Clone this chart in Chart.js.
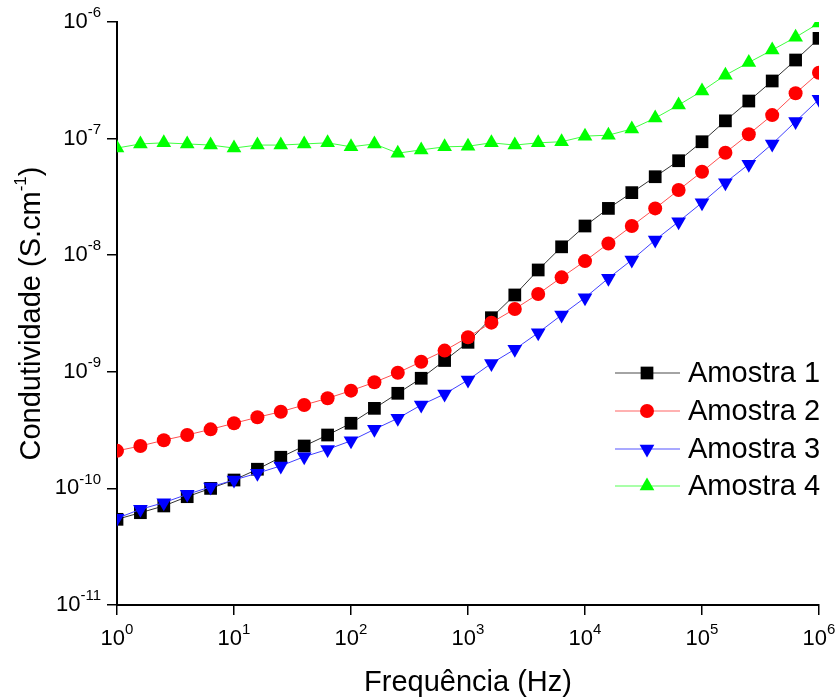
<!DOCTYPE html>
<html>
<head>
<meta charset="utf-8">
<script src="https://cdn.jsdelivr.net/npm/chart.js@4/dist/chart.umd.min.js"></script>
<style>
  html, body { margin: 0; padding: 0; background: #fff; }
  #wrap { width: 837px; height: 698px; }
</style>
</head>
<body>
<div id="wrap"><canvas id="chart" width="837" height="698"></canvas></div>
<script>
// frequencies (Hz), five points per decade
const freqs = [1, 1.585, 2.512, 3.981, 6.31, 10, 15.85, 25.12, 39.81, 63.1,
  100, 158.5, 251.2, 398.1, 631, 1000, 1585, 2512, 3981, 6310,
  10000, 15850, 25120, 39810, 63100, 100000, 158500, 251200, 398100, 631000, 1000000];

// conductivity (S/cm)
const amostra1 = [5.43e-11, 6.19e-11, 7.07e-11, 8.49e-11, 1.00e-10, 1.18e-10, 1.46e-10, 1.85e-10, 2.31e-10, 2.87e-10,
  3.62e-10, 4.86e-10, 6.54e-10, 8.8e-10, 1.25e-9, 1.79e-9, 2.91e-9, 4.56e-9, 7.47e-9, 1.18e-8,
  1.78e-8, 2.52e-8, 3.44e-8, 4.71e-8, 6.46e-8, 9.4e-8, 1.42e-7, 2.1e-7, 3.12e-7, 4.72e-7, 7.24e-7];
const amostra2 = [2.10e-10, 2.31e-10, 2.59e-10, 2.87e-10, 3.21e-10, 3.62e-10, 4.07e-10, 4.55e-10, 5.19e-10, 5.93e-10,
  6.89e-10, 8.13e-10, 9.82e-10, 1.22e-9, 1.52e-9, 1.98e-9, 2.64e-9, 3.46e-9, 4.65e-9, 6.46e-9,
  8.9e-9, 1.26e-8, 1.78e-8, 2.52e-8, 3.62e-8, 5.2e-8, 7.57e-8, 1.09e-7, 1.59e-7, 2.45e-7, 3.67e-7];
const amostra3 = [5.54e-11, 6.62e-11, 7.54e-11, 8.89e-11, 1.03e-10, 1.18e-10, 1.35e-10, 1.56e-10, 1.87e-10, 2.16e-10,
  2.56e-10, 3.21e-10, 3.99e-10, 5.19e-10, 6.45e-10, 8.5e-10, 1.18e-9, 1.56e-9, 2.16e-9, 3.07e-9,
  4.32e-9, 6.34e-9, 9.1e-9, 1.35e-8, 1.94e-8, 2.82e-8, 4.19e-8, 6.03e-8, 9.0e-8, 1.40e-7, 2.17e-7];
const amostra4 = [8.3e-8, 9.0e-8, 9.2e-8, 9.0e-8, 8.8e-8, 8.3e-8, 8.8e-8, 8.8e-8, 9.0e-8, 9.2e-8,
  8.5e-8, 9.0e-8, 7.5e-8, 8.0e-8, 8.5e-8, 8.6e-8, 9.2e-8, 8.8e-8, 9.2e-8, 9.4e-8,
  1.05e-7, 1.07e-7, 1.21e-7, 1.5e-7, 1.94e-7, 2.56e-7, 3.5e-7, 4.5e-7, 5.75e-7, 7.4e-7, 9.8e-7];

const seriesNames = ['Amostra 1', 'Amostra 2', 'Amostra 3', 'Amostra 4'];
const xTickExps = [0, 1, 2, 3, 4, 5, 6];
const yTickExps = [-11, -10, -9, -8, -7, -6];
const xTitle = 'Frequência (Hz)';
const yTitle = 'Condutividade (S.cm';

const FONT = '"Liberation Sans", Arial, sans-serif';

function toPoints(ys) {
  return ys.map((y, i) => ({ x: freqs[i], y: y }));
}

const styles = [
  { color: '#000000', line: '#333333', pointStyle: 'rect', radius: 9, rotation: 0 },
  { color: '#ff0000', line: '#ff5050', pointStyle: 'circle', radius: 7, rotation: 0 },
  { color: '#0000ff', line: '#4040ff', pointStyle: 'triangle', radius: 8.5, rotation: 180 },
  { color: '#00ff00', line: '#40ff40', pointStyle: 'triangle', radius: 8.5, rotation: 0 }
];

const allData = [amostra1, amostra2, amostra3, amostra4];

const datasets = allData.map((ys, i) => ({
  label: seriesNames[i],
  data: toPoints(ys),
  borderColor: styles[i].line,
  borderWidth: 1,
  backgroundColor: styles[i].color,
  pointBackgroundColor: styles[i].color,
  pointBorderColor: styles[i].color,
  pointBorderWidth: 0,
  pointStyle: styles[i].pointStyle,
  pointRadius: styles[i].radius,
  pointRotation: styles[i].rotation,
  pointHoverRadius: styles[i].radius,
  tension: 0,
  clip: 0,
  order: 3 - i
}));

function drawPower(ctx, x, y, exp, baseSize, supSize, align) {
  let base = '10';
  let sup = String(exp);
  ctx.font = baseSize + 'px ' + FONT;
  let bw = ctx.measureText(base).width;
  ctx.font = supSize + 'px ' + FONT;
  let sw = ctx.measureText(sup).width;
  let total = bw + sw;
  let left = align === 'right' ? x - total : x - total / 2;
  ctx.textAlign = 'left';
  ctx.textBaseline = 'middle';
  ctx.font = baseSize + 'px ' + FONT;
  ctx.fillText(base, left, y);
  ctx.font = supSize + 'px ' + FONT;
  ctx.fillText(sup, left + bw, y - 9);
}

const labelsPlugin = {
  id: 'labelsPlugin',
  afterDraw(chart) {
    let ctx = chart.ctx;
    let xs = chart.scales.x;
    let ys = chart.scales.y;
    let area = chart.chartArea;
    ctx.save();
    ctx.fillStyle = '#000';

    yTickExps.forEach(e => {
      drawPower(ctx, 101, ys.getPixelForValue(Math.pow(10, e)), e, 22, 15, 'right');
    });
    xTickExps.forEach(e => {
      drawPower(ctx, xs.getPixelForValue(Math.pow(10, e)), 639, e, 22, 15, 'center');
    });

    // x title
    ctx.font = '29px ' + FONT;
    ctx.textAlign = 'center';
    ctx.textBaseline = 'middle';
    ctx.fillText(xTitle, (area.left + area.right) / 2, 683);

    // y title with superscript
    ctx.translate(32, (area.top + area.bottom) / 2);
    ctx.rotate(-Math.PI / 2);
    ctx.font = '29px ' + FONT;
    let w1 = ctx.measureText(yTitle).width;
    let w3 = ctx.measureText(')').width;
    ctx.font = '17px ' + FONT;
    let w2 = ctx.measureText('-1').width;
    let start = -(w1 + w2 + w3) / 2;
    ctx.textAlign = 'left';
    ctx.font = '29px ' + FONT;
    ctx.fillText(yTitle, start, 0);
    ctx.font = '17px ' + FONT;
    ctx.fillText('-1', start + w1, -11);
    ctx.font = '29px ' + FONT;
    ctx.fillText(')', start + w1 + w2, 0);
    ctx.restore();

    // legend: line + marker + text
    ctx.save();
    let rows = [373, 411, 449, 486];
    chart.data.datasets.forEach((ds, i) => {
      let y = rows[i];
      ctx.strokeStyle = ds.borderColor;
      ctx.lineWidth = 1.5;
      ctx.globalAlpha = 0.6;
      ctx.beginPath();
      ctx.moveTo(615, y);
      ctx.lineTo(680, y);
      ctx.stroke();
      ctx.globalAlpha = 1;
      ctx.fillStyle = ds.pointBackgroundColor;
      ctx.strokeStyle = ds.pointBackgroundColor;
      Chart.helpers.drawPoint(ctx, {
        pointStyle: ds.pointStyle,
        radius: ds.pointRadius,
        rotation: ds.pointRotation,
        borderWidth: 0
      }, 647, y);
      ctx.fillStyle = '#000';
      ctx.font = '29px ' + FONT;
      ctx.textAlign = 'left';
      ctx.textBaseline = 'middle';
      ctx.fillText(ds.label, 688, y + 1);
    });
    ctx.restore();
  }
};

const axisCommon = {
  type: 'logarithmic',
  z: 1,
  grid: {
    display: true,
    drawOnChartArea: false,
    drawTicks: true,
    tickLength: 10,
    color: '#000',
    lineWidth: 1.5
  },
  border: { display: true, color: '#000', width: 2 },
  ticks: { display: false },
  title: { display: false }
};

new Chart(document.getElementById('chart').getContext('2d'), {
  type: 'line',
  data: { datasets: datasets },
  options: {
    responsive: false,
    animation: false,
    events: [],
    layout: { padding: { left: 0, top: 22, right: 18, bottom: 0 } },
    plugins: { legend: { display: false }, tooltip: { enabled: false } },
    scales: {
      x: Object.assign({}, axisCommon, {
        min: 1,
        max: 1e6,
        afterBuildTicks: (scale) => {
          scale.ticks = xTickExps.map(e => ({ value: Math.pow(10, e) }));
        },
        afterFit: (scale) => { scale.height = 93; }
      }),
      y: Object.assign({}, axisCommon, {
        min: 1e-11,
        max: 1e-6,
        afterBuildTicks: (scale) => {
          scale.ticks = yTickExps.map(e => ({ value: Math.pow(10, e) }));
        },
        afterFit: (scale) => { scale.width = 117; }
      })
    }
  },
  plugins: [labelsPlugin]
});
</script>
</body>
</html>
